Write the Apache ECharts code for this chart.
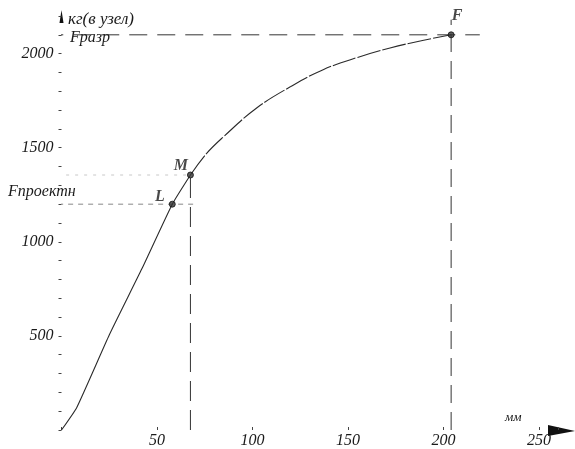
<!DOCTYPE html>
<html><head><meta charset="utf-8">
<script src="https://cdn.jsdelivr.net/npm/echarts@6/dist/echarts.min.js"></script>
<style>html,body{margin:0;background:#fff}#c{width:575px;height:449px}</style>
</head><body><div id="c"></div>
<script>
// Lower (solid) part of the load–deflection curve, mm / kg
const lowerMM = [0, 8, 25, 42, 58, 67.5];
const lowerKG = [0, 120, 505, 855, 1200, 1355];
// Upper part of the curve (from M to F)
const upperMM = [67.5, 76, 85, 102, 120, 137, 155, 172, 189, 204];
const upperKG = [1355, 1470, 1560, 1710, 1825, 1915, 1980, 2030, 2070, 2100];
// Marked points
const pointNames = ['L', 'M', 'F'];
const pointMM = [58, 67.5, 204];
const pointKG = [1200, 1355, 2100];
// Axis ticks
const xTickLabels = [50, 100, 150, 200, 250];
const yTickLabels = [500, 1000, 1500, 2000];
// Texts
const yUnit = 'кг(в узел)';
const xUnit = 'мм';
const fRazr = 'Fразр';
const fProekt = 'Fпроектн';
// Extents of the helper lines
const razrFromMM = -8.5, razrToMM = 219;
const fTopKG = 2180;
const proektFromMM = -7, proektToMM = 71;

const SERIF = '"Liberation Serif", "DejaVu Serif", serif';
const INK = '#1a1a1a';
const chart = echarts.init(document.getElementById('c'));

function seg(x1, y1, x2, y2, color, dash, width) {
  return {
    type: 'line', data: [[x1, y1], [x2, y2]], showSymbol: false, clip: false, silent: true,
    lineStyle: { color: color, width: width || 1, type: dash }
  };
}

const option = {
  backgroundColor: '#ffffff',
  animation: false,
  grid: { left: 61.5, right: 575 - 61.5 - 1.91 * 260, top: 16, bottom: 19 },
  xAxis: {
    type: 'value', min: 0, max: 260, interval: 50,
    axisLine: { show: false },
    splitLine: { show: false },
    axisTick: { show: true, inside: true, length: 3, lineStyle: { color: '#444' } },
    axisLabel: {
      margin: 3, fontFamily: SERIF, fontStyle: 'italic', fontSize: 16, color: INK,
      formatter: v => xTickLabels.includes(v) ? String(v) : ''
    }
  },
  yAxis: {
    type: 'value', min: 0, max: 2200, interval: 100,
    axisLine: { show: false },
    splitLine: { show: false },
    axisTick: { show: true, length: 3, lineStyle: { color: '#444' } },
    axisLabel: {
      margin: 8, fontFamily: SERIF, fontStyle: 'italic', fontSize: 16, color: INK,
      formatter: v => yTickLabels.includes(v) ? String(v) : ''
    }
  },
  series: [
    seg(razrFromMM, pointKG[2], razrToMM, pointKG[2], '#333', [18, 10]),
    seg(pointMM[2], 0, pointMM[2], fTopKG, '#333', [18, 9]),
    seg(pointMM[1], 0, pointMM[1], pointKG[1], '#333', [20, 9]),
    seg(proektFromMM, pointKG[0], proektToMM, pointKG[0], '#888', [5, 5]),
    seg(proektFromMM, pointKG[1], pointMM[1], pointKG[1], '#c8c8c8', [3, 6]),
    {
      type: 'line', showSymbol: false, smooth: 0.15,
      data: lowerMM.map((x, i) => [x, lowerKG[i]]),
      lineStyle: { color: '#2a2a2a', width: 1.1 }
    },
    {
      type: 'line', showSymbol: false, smooth: 0.4,
      data: upperMM.map((x, i) => [x, upperKG[i]]),
      lineStyle: { color: '#2a2a2a', width: 1.1, type: [24, 2] }
    },
    {
      type: 'scatter', symbol: 'circle', symbolSize: 6, z: 5,
      itemStyle: { color: '#333', borderColor: '#111', borderWidth: 1 },
      label: {
        show: true, fontFamily: SERIF, fontStyle: 'italic', fontWeight: 'bold',
        fontSize: 16, color: INK, formatter: p => p.name
      },
      data: [
        { name: pointNames[0], value: [pointMM[0], pointKG[0]], label: { position: 'left', distance: 4, offset: [0, -7] } },
        { name: pointNames[1], value: [pointMM[1], pointKG[1]], label: { position: 'left', distance: 1, offset: [2, -9] } },
        { name: pointNames[2], value: [pointMM[2], pointKG[2]], label: { position: 'top', distance: 7, offset: [6, 0] } }
      ]
    }
  ]
};
chart.setOption(option);

const origin = chart.convertToPixel({ gridIndex: 0 }, [0, 0]);
const topPx = chart.convertToPixel({ gridIndex: 0 }, [0, 2200]);
const txt = (x, y, s, size, weight) => ({
  type: 'text', x: x, y: y,
  style: { text: s, fill: INK, font: `italic ${weight || 'normal'} ${size}px ${SERIF}`, textVerticalAlign: 'middle' }
});
chart.setOption({
  graphic: [
    { type: 'polygon', shape: { points: [[origin[0] - 2, topPx[1] + 7], [origin[0], topPx[1] - 6], [origin[0] + 2, topPx[1] + 7]] }, style: { fill: '#111' } },
    { type: 'polygon', shape: { points: [[548, origin[1] - 5], [575, origin[1] + 1], [548, origin[1] + 6]] }, style: { fill: '#111' } },
    txt(68, 20, yUnit, 17),
    txt(70, 38, fRazr, 16),
    txt(8, 192, fProekt, 16),
    txt(505, 418, xUnit, 13)
  ]
});
</script>
</body></html>
